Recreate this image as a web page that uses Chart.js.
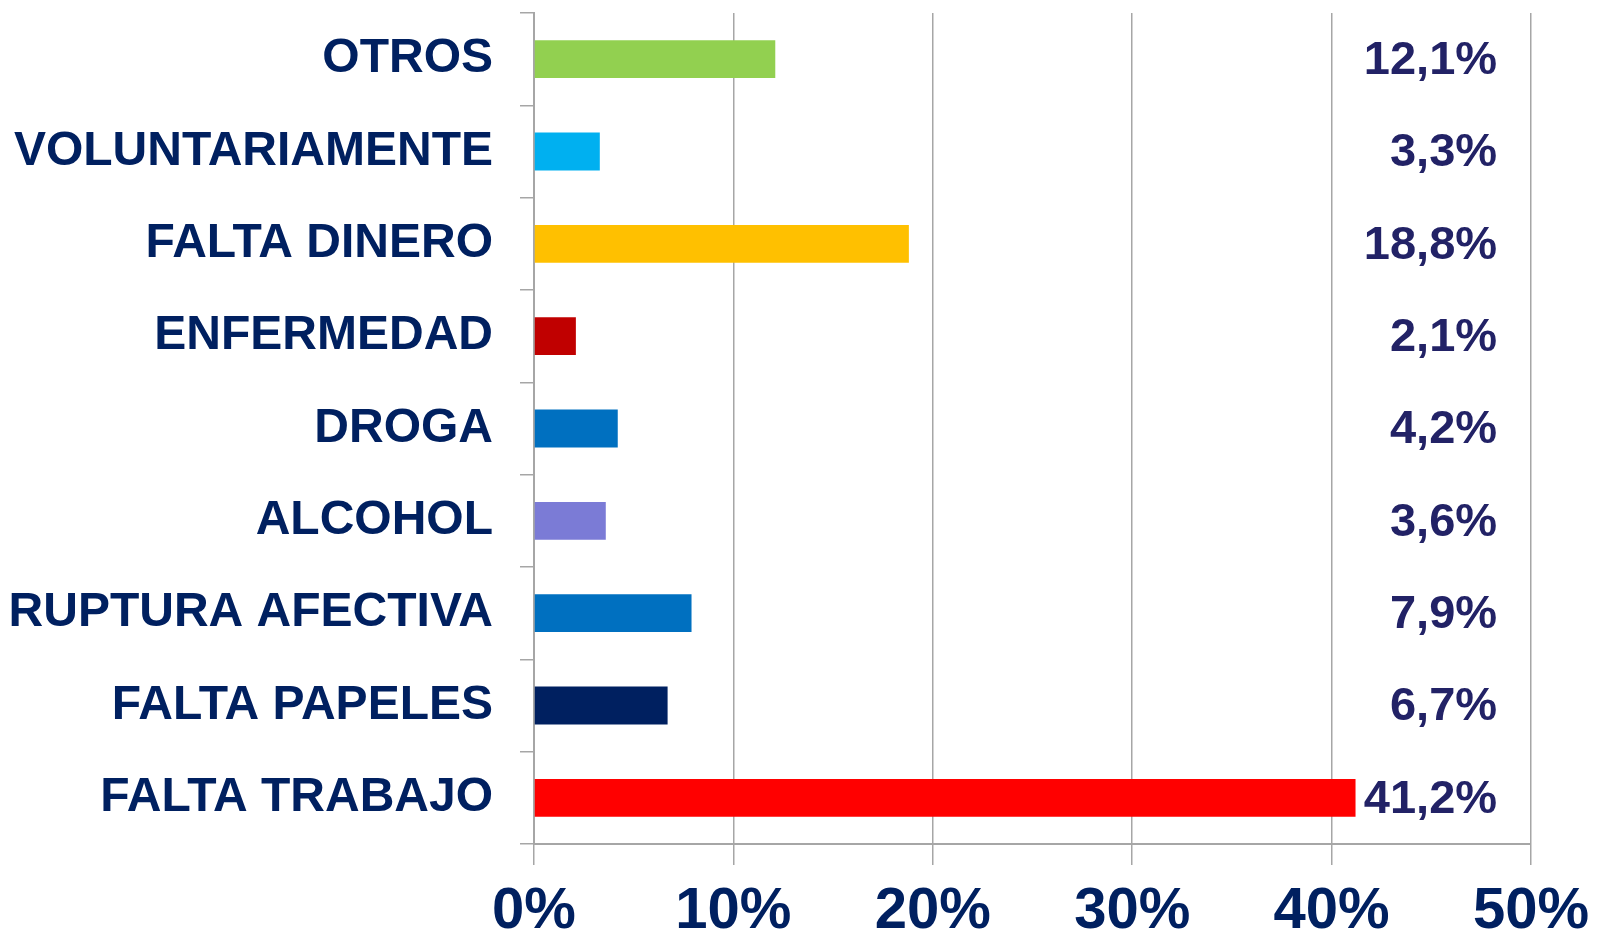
<!DOCTYPE html>
<html>
<head>
<meta charset="utf-8">
<title>Motivos</title>
<script src="https://cdn.jsdelivr.net/npm/chart.js@4.4.1/dist/chart.umd.min.js"></script>
<style>
  html, body { margin: 0; padding: 0; background: #fff; }
  canvas { display: block; }
</style>
</head>
<body>
<canvas id="motivosChart" width="1598" height="939"></canvas>
<script>
// Categories, top to bottom
const categories = [
  "OTROS",
  "VOLUNTARIAMENTE",
  "FALTA DINERO",
  "ENFERMEDAD",
  "DROGA",
  "ALCOHOL",
  "RUPTURA AFECTIVA",
  "FALTA PAPELES",
  "FALTA TRABAJO"
];

// Percentages
const percentValues = [12.1, 3.3, 18.8, 2.1, 4.2, 3.6, 7.9, 6.7, 41.2];

// One colour per bar
const barColors = [
  "#92D050",
  "#00B0F0",
  "#FFC000",
  "#C00000",
  "#0070C0",
  "#7B7BD6",
  "#0070C0",
  "#002060",
  "#FF0000"
];

// Axis ticks
const axisMin = 0;
const axisMax = 50;
const axisStep = 10;

const fontFamily = "'Liberation Sans', Arial, Helvetica, sans-serif";
const gridGray = "#A6A6A6";

// Value labels drawn in a column near the right side of the plot
const valueLabelPlugin = {
  id: "valueLabels",
  afterDatasetsDraw: function (chart) {
    const ctx = chart.ctx;
    const xScale = chart.scales.x;
    const meta = chart.getDatasetMeta(0);
    const anchorX = xScale.getPixelForValue(48.3);

    ctx.save();
    ctx.font = "bold 47px " + fontFamily;
    ctx.fillStyle = "#222266";
    ctx.textAlign = "right";
    ctx.textBaseline = "middle";
    meta.data.forEach(function (bar, i) {
      const text = percentValues[i].toFixed(1).replace(".", ",") + "%";
      ctx.fillText(text, anchorX, bar.y + 2);
    });
    ctx.restore();
  }
};

const ctx = document.getElementById("motivosChart").getContext("2d");

const motivosChart = new Chart(ctx, {
  type: "bar",
  data: {
    labels: categories,
    datasets: [
      {
        data: percentValues,
        backgroundColor: barColors,
        borderWidth: 0,
        barPercentage: 0.41,
        categoryPercentage: 1.0
      }
    ]
  },
  options: {
    indexAxis: "y",
    responsive: false,
    devicePixelRatio: 1,
    animation: false,
    layout: {
      padding: { left: 0, right: 67, top: 13, bottom: 0 }
    },
    plugins: {
      legend: { display: false },
      tooltip: { enabled: false }
    },
    scales: {
      x: {
        min: axisMin,
        max: axisMax,
        ticks: {
          stepSize: axisStep,
          padding: 12,
          color: "#002060",
          font: { family: fontFamily, size: 58, weight: "bold" },
          callback: function (value) {
            return value + "%";
          }
        },
        grid: {
          color: gridGray,
          lineWidth: 1.5,
          tickLength: 21,
          drawOnChartArea: true
        },
        border: { display: true, color: gridGray, width: 2 },
        afterFit: function (scale) {
          scale.height = 95;
          scale.paddingLeft = 0;
          scale.paddingRight = 0;
        }
      },
      y: {
        ticks: {
          padding: 27,
          color: "#002060",
          font: { family: fontFamily, size: 48, weight: "bold" }
        },
        grid: {
          color: gridGray,
          lineWidth: 1.5,
          tickLength: 14,
          drawOnChartArea: false,
          offset: true
        },
        border: { display: true, color: gridGray, width: 2 },
        afterFit: function (scale) {
          scale.width = 534;
          scale.paddingTop = 0;
          scale.paddingBottom = 0;
        }
      }
    }
  },
  plugins: [valueLabelPlugin]
});
</script>
</body>
</html>
